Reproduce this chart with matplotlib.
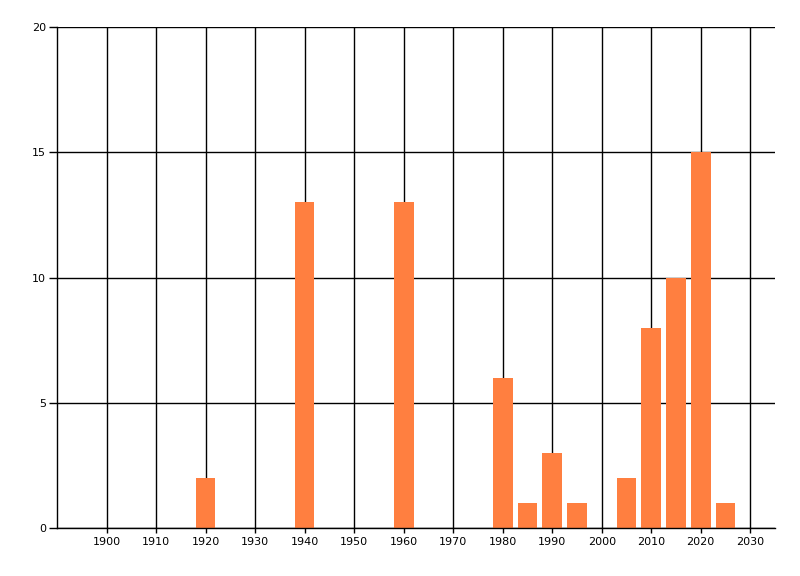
import matplotlib
matplotlib.use("Agg")
import matplotlib.pyplot as plt

# bar data
years = [1920, 1940, 1960, 1980, 1985, 1990, 1995, 2005, 2010, 2015, 2020, 2025]
counts = [2, 13, 13, 6, 1, 3, 1, 2, 8, 10, 15, 1]
x_ticks = list(range(1900, 2031, 10))
y_ticks = [0, 5, 10, 15, 20]

plt.rcParams['font.family'] = ['DejaVu Sans']
plt.rcParams['font.size'] = 8

fig = plt.figure(figsize=(8, 5.76), dpi=100)
ax = fig.add_axes([57 / 800, 1 - 528 / 576, (775 - 57) / 800, (528 - 27) / 576])

ax.bar(years, counts, width=4, color='#FF7F40', zorder=2)

ax.set_xlim(1890, 2035)
ax.set_ylim(0, 20)
ax.set_xticks(x_ticks)
ax.set_yticks(y_ticks)
ax.grid(True, color='black', linewidth=1, zorder=1)
ax.set_axisbelow(True)

for side in ['top', 'right']:
    ax.spines[side].set_visible(False)
for side in ['left', 'bottom']:
    ax.spines[side].set_linewidth(1)
    ax.spines[side].set_zorder(3)

ax.tick_params(axis='y', length=6, width=1, pad=2)
ax.tick_params(axis='x', length=3.5, width=1, pad=3)

fig.savefig('out.png', dpi=100)
